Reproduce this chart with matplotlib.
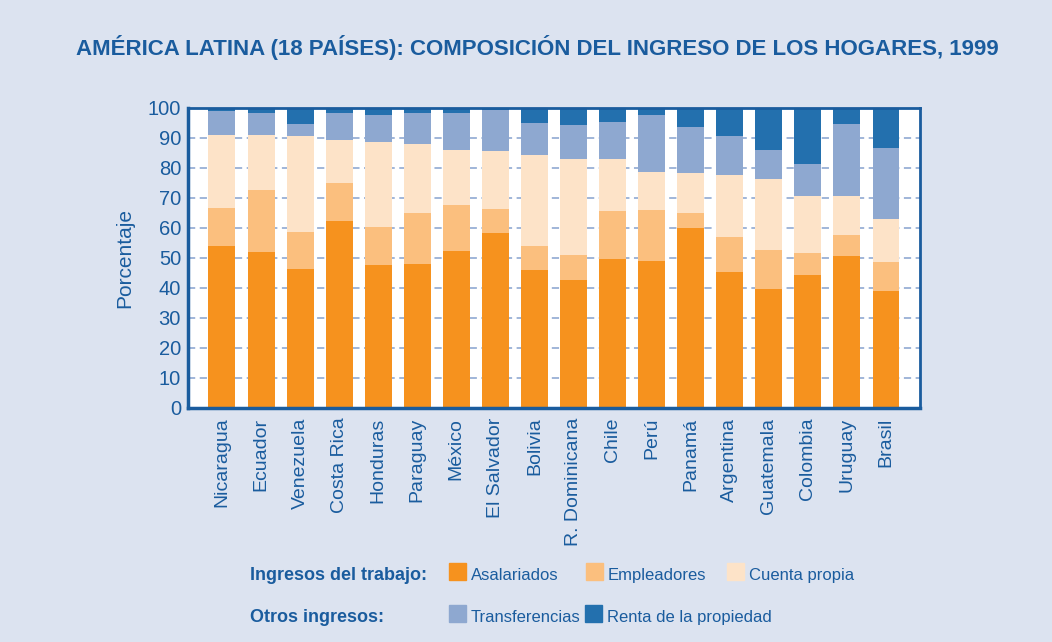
import numpy as np
import matplotlib.pyplot as plt
from matplotlib.patches import Rectangle

plt.rcParams['font.family'] = ['Liberation Sans', 'DejaVu Sans']

paises = ['Nicaragua', 'Ecuador', 'Venezuela', 'Costa Rica', 'Honduras', 'Paraguay',
          'México', 'El Salvador', 'Bolivia', 'R. Dominicana', 'Chile', 'Perú',
          'Panamá', 'Argentina', 'Guatemala', 'Colombia', 'Uruguay', 'Brasil']

asalariados = [53.9, 51.9, 46.2, 62.2, 47.6, 47.9, 52.2, 58.2, 45.9, 42.5, 49.6, 48.9,
               59.9, 45.2, 39.5, 44.2, 50.6, 38.9]
empleadores = [12.7, 20.7, 12.4, 12.7, 12.6, 17.0, 15.4, 8.1, 8.0, 8.4, 16.0, 17.0,
               5.0, 11.7, 13.1, 7.4, 7.0, 9.7]
cuenta_propia = [24.4, 18.4, 32.0, 14.4, 28.4, 23.1, 18.4, 19.3, 30.4, 32.1, 17.4, 12.7,
                 13.4, 20.7, 23.7, 19.0, 13.0, 14.3]
transferencias = [8.1, 7.3, 4.1, 9.0, 9.1, 10.3, 12.3, 13.7, 10.7, 11.3, 12.3, 19.1,
                  15.4, 13.0, 9.7, 10.7, 24.1, 23.7]
renta = [0.9, 1.7, 5.3, 1.7, 2.3, 1.7, 1.7, 0.7, 5.0, 5.7, 4.7, 2.3,
         6.3, 9.4, 14.0, 18.7, 5.3, 13.4]

series = [asalariados, empleadores, cuenta_propia, transferencias, renta]
nombres = ['Asalariados', 'Empleadores', 'Cuenta propia', 'Transferencias', 'Renta de la propiedad']
colores = ['#f6921e', '#fbbf7e', '#fde3c8', '#8ea8d0', '#2370ae']

fondo = '#dce3f0'
azul = '#1a5c9e'

fig = plt.figure(figsize=(10.52, 6.42), dpi=100, facecolor=fondo)
ax = fig.add_axes([0.1787, 0.3645, 0.6958, 0.4673])
ax.set_facecolor('white')

x = np.arange(len(paises))
base = np.zeros(len(paises))
for vals, col in zip(series, colores):
    ax.bar(x, vals, width=0.69, bottom=base, color=col, zorder=2)
    base += np.array(vals)

ax.set_xlim(-0.87, 17.87)
ax.set_ylim(0, 100)
ax.set_yticks(range(0, 101, 10))
ax.yaxis.grid(True, color='#98b0d6', linestyle=(0, (4, 2.5)), linewidth=1.3, zorder=1)
ax.set_axisbelow(True)

for s in ax.spines.values():
    s.set_color(azul)
    s.set_linewidth(2)
ax.spines['left'].set_linewidth(2.5)
ax.spines['bottom'].set_linewidth(2.5)

ax.tick_params(axis='y', length=0, colors=azul, labelsize=14.5, pad=5)
ax.tick_params(axis='x', length=0, colors=azul, labelsize=14, pad=7)
ax.set_xticks(x)
ax.set_xticklabels(paises, rotation=90, va='top', ha='center')
ax.set_ylabel('Porcentaje', color=azul, fontsize=15, labelpad=10)

fig.text(0.511, 0.926, 'AMÉRICA LATINA (18 PAÍSES): COMPOSICIÓN DEL INGRESO DE LOS HOGARES, 1999',
         ha='center', va='center', color=azul, fontsize=16, fontweight='bold')

# leyenda en dos filas
W, H = 1052, 642
fig.text(250 / W, 1 - 580 / H, 'Ingresos del trabajo:', color=azul, fontsize=13,
         fontweight='bold', va='baseline', ha='left')
fig.text(250 / W, 1 - 622 / H, 'Otros ingresos:', color=azul, fontsize=13,
         fontweight='bold', va='baseline', ha='left')
pos = [(449, 580), (586, 580), (727, 580), (449, 622), (585, 622)]
for (px, py), nom, col in zip(pos, nombres, colores):
    fig.patches.append(Rectangle((px / W, 1 - py / H), 17 / W, 17 / H,
                                 transform=fig.transFigure, color=col, figure=fig))
    fig.text((px + 22) / W, 1 - py / H, nom, color=azul, fontsize=12, va='baseline', ha='left')

fig.savefig('out.png', dpi=100, facecolor=fondo)
